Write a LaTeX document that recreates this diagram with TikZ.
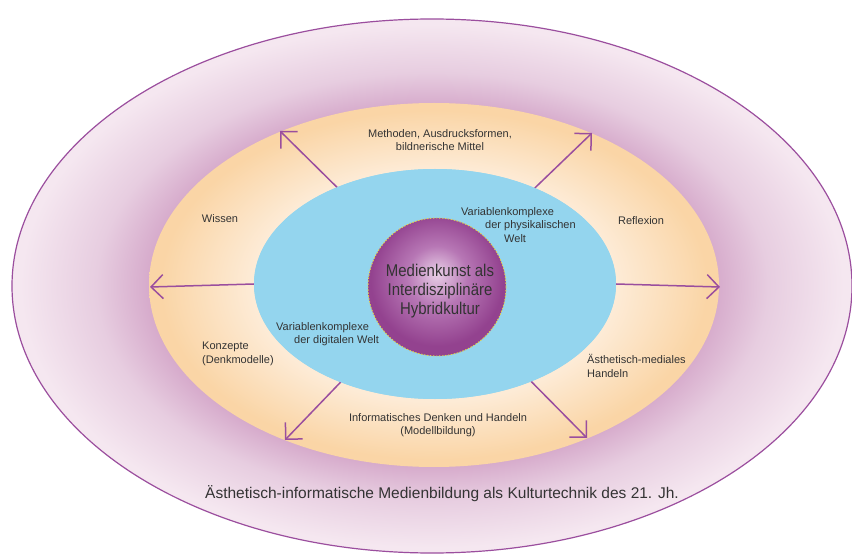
\documentclass[tikz,border=0pt]{standalone}
\usepackage{fontspec}
\setmainfont{Liberation Sans}
\newfontfamily\narrowfont{Liberation Sans}[FakeStretch=0.88]
\usetikzlibrary{arrows.meta,shapes.geometric}
\definecolor{arrowpurple}{HTML}{9A4E9E}
\definecolor{outline}{HTML}{9B4E9E}
\definecolor{mauvedark}{HTML}{D6AACB}
\definecolor{mauvemid}{HTML}{E7CDE0}
\definecolor{mauvelight}{HTML}{F5E7F0}
\definecolor{peachlight}{HTML}{FDEBD6}
\definecolor{peachdark}{HTML}{FAD5A6}
\definecolor{skyblue}{HTML}{94D5EE}
\definecolor{orbdark}{HTML}{93428F}
\definecolor{orbmid}{HTML}{B777B5}
\definecolor{orblight}{HTML}{E9D0E7}
\definecolor{orbrim}{HTML}{E2D34C}
\definecolor{textgray}{HTML}{333333}
\pgfdeclareradialshading{outerglow}{\pgfpoint{0bp}{0bp}}{%
  color(0bp)=(mauvedark); color(16.8bp)=(mauvedark); color(20bp)=(mauvemid);
  color(24.5bp)=(mauvelight); color(50bp)=(mauvelight)}
\pgfdeclareradialshading{peachglow}{\pgfpoint{0bp}{0bp}}{%
  color(0bp)=(peachlight); color(16bp)=(peachlight); color(24bp)=(peachdark);
  color(50bp)=(peachdark)}
\pgfdeclareradialshading{orbglow}{\pgfpoint{0bp}{5bp}}{%
  color(0bp)=(orblight); color(11bp)=(orbmid); color(24bp)=(orbdark);
  color(50bp)=(orbdark)}
\tikzset{
  spoke/.style={draw=arrowpurple, line width=1.5pt,
    -{Straight Barb[length=12pt,width=24pt,line width=1.5pt]}},
  lbl/.style={font=\fontsize{11}{13.5}\selectfont, text=textgray, inner sep=0pt},
  ring/.style={ellipse, inner sep=0pt, outer sep=0pt},
}
\begin{document}
\begin{tikzpicture}[x=1pt,y=-1pt]
\useasboundingbox (0,0) rectangle (852,556);
\fill[white] (0,0) rectangle (852,556);
% rings
\node[ring, shading=outerglow, draw=outline, line width=1.2pt,
  minimum width=840, minimum height=534] (outer) at (432,286) {};
\node[ring, shading=peachglow, minimum width=570, minimum height=364] (peach) at (434,285) {};
\node[ring, fill=skyblue, minimum width=362, minimum height=230] (blue) at (435,284) {};
% arrow tips
\coordinate (tW)  at (150,287);
\coordinate (tE)  at (720,287);
\coordinate (tNW) at (280,131);
\coordinate (tNE) at (592,133);
\coordinate (tSW) at (285,440);
\coordinate (tSE) at (587,438);
\draw[spoke] (blue.west) -- (tW);
\draw[spoke] (blue.east) -- (tE);
\draw[spoke] (blue) -- (tNW);
\draw[spoke] (blue) -- (tNE);
\draw[spoke] (blue) -- (tSW);
\draw[spoke] (blue) -- (tSE);
% redraw blue and orb over arrow starts
\node[ring, fill=skyblue, minimum width=362, minimum height=230] (blue2) at (435,284) {};
\node[circle, inner sep=0pt, shading=orbglow, minimum size=138] (orb) at (437,287) {};
\draw[orbrim, line width=0.9pt, dash pattern=on 1.5pt off 1.5pt] (orb) circle [radius=69];
% texts
\node[lbl, align=center, text=textgray, font=\narrowfont\fontsize{17}{19}\selectfont] (core) at (440,291)
  {Medienkunst als\\Interdisziplinäre\\Hybridkultur};
\node[lbl, align=center] (meth) at (440,140) {Methoden, Ausdrucksformen,\\bildnerische Mittel};
\node[lbl, align=left, anchor=west] (phys) at (461,225)
  {Variablenkomplexe\\\hspace*{24pt}der physikalischen\\\hspace*{43pt}Welt};
\node[lbl, align=left, anchor=west] (digi) at (276,334)
  {Variablenkomplexe\\\hspace*{18pt}der digitalen Welt};
\node[lbl] (wissen) at (220,219) {Wissen};
\node[lbl] (reflex) at (641,221) {Reflexion};
\node[lbl, align=left, anchor=west] (konz) at (202,354) {Konzepte\\(Denkmodelle)};
\node[lbl, align=left, anchor=west] (aesth) at (587,366) {Ästhetisch-mediales\\Handeln};
\node[lbl, align=center] (inform) at (438,425) {Informatisches Denken und Handeln\\(Modellbildung)};
\node[lbl, font=\fontsize{15.5}{18}\selectfont] (bottom) at (442,494)
  {Ästhetisch-informatische Medienbildung als Kulturtechnik des 21. Jh.};
\end{tikzpicture}
\end{document}
